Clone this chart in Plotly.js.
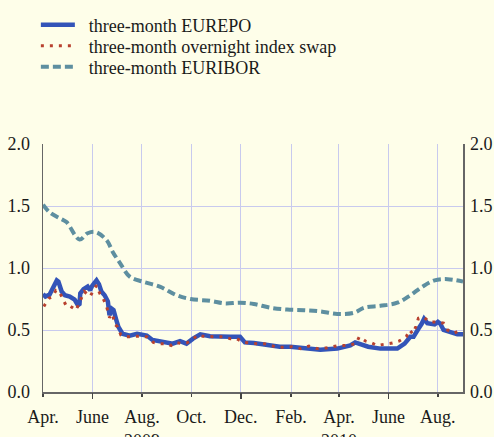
<!DOCTYPE html>
<html><head><meta charset="utf-8">
<script src="https://cdn.plot.ly/plotly-3.0.1.min.js"></script>
<style>html,body{margin:0;padding:0;background:#FEFEE9;}</style>
</head><body><div id="chart" style="width:494px;height:437px;"></div>
<script>
const eurepoDates = ['2009-04-01','2009-04-04','2009-04-09','2009-04-14','2009-04-18','2009-04-20','2009-04-24','2009-04-28','2009-05-04','2009-05-10','2009-05-14','2009-05-16','2009-05-17','2009-05-21','2009-05-26','2009-05-29','2009-06-01','2009-06-06','2009-06-09','2009-06-12','2009-06-16','2009-06-20','2009-06-22','2009-06-25','2009-06-27','2009-06-30','2009-07-03','2009-07-08','2009-07-17','2009-07-26','2009-08-07','2009-08-14','2009-08-27','2009-09-08','2009-09-17','2009-09-25','2009-10-03','2009-10-12','2009-10-24','2009-11-05','2009-11-18','2009-11-30','2009-12-06','2009-12-17','2010-01-06','2010-01-18','2010-01-31','2010-02-17','2010-03-09','2010-03-30','2010-04-15','2010-04-21','2010-04-27','2010-05-07','2010-05-22','2010-06-12','2010-06-21','2010-06-28','2010-07-02','2010-07-04','2010-07-08','2010-07-12','2010-07-15','2010-07-19','2010-07-23','2010-07-28','2010-08-01','2010-08-04','2010-08-08','2010-08-16','2010-08-25','2010-09-01'];
const eurepoValues = [0.79,0.77,0.785,0.85,0.90,0.89,0.81,0.78,0.77,0.745,0.70,0.71,0.795,0.83,0.85,0.82,0.86,0.90,0.87,0.81,0.78,0.73,0.62,0.67,0.66,0.59,0.525,0.47,0.455,0.47,0.455,0.42,0.40,0.39,0.41,0.39,0.43,0.465,0.45,0.445,0.445,0.445,0.40,0.395,0.375,0.365,0.365,0.35,0.34,0.35,0.375,0.40,0.39,0.365,0.35,0.35,0.39,0.445,0.445,0.47,0.51,0.55,0.59,0.555,0.55,0.545,0.565,0.55,0.50,0.485,0.465,0.465];

const oisDates = ['2009-04-02','2009-04-08','2009-04-13','2009-04-17','2009-04-21','2009-04-25','2009-04-30','2009-05-05','2009-05-12','2009-05-15','2009-05-22','2009-05-29','2009-06-02','2009-06-06','2009-06-10','2009-06-14','2009-06-18','2009-06-21','2009-06-22','2009-06-26','2009-06-28','2009-07-02','2009-07-06','2009-07-13','2009-07-21','2009-07-29','2009-08-07','2009-08-15','2009-08-23','2009-08-31','2009-09-06','2009-09-12','2009-09-19','2009-09-25','2009-10-01','2009-10-09','2009-10-15','2009-10-24','2009-11-01','2009-11-09','2009-11-18','2009-11-26','2009-12-04','2009-12-21','2009-12-30','2010-01-07','2010-01-15','2010-01-23','2010-02-02','2010-02-13','2010-02-23','2010-03-05','2010-03-16','2010-03-24','2010-04-01','2010-04-11','2010-04-22','2010-04-26','2010-05-04','2010-05-10','2010-05-18','2010-05-27','2010-06-06','2010-06-14','2010-06-23','2010-06-27','2010-07-01','2010-07-05','2010-07-08','2010-07-14','2010-07-22','2010-07-30','2010-08-08','2010-08-13','2010-08-21','2010-08-29'];
const oisValues = [0.69,0.755,0.77,0.82,0.81,0.755,0.69,0.69,0.66,0.71,0.81,0.77,0.82,0.86,0.795,0.755,0.70,0.63,0.60,0.63,0.55,0.525,0.46,0.445,0.45,0.45,0.445,0.40,0.39,0.39,0.375,0.40,0.39,0.395,0.415,0.46,0.45,0.445,0.445,0.445,0.43,0.43,0.40,0.39,0.39,0.375,0.36,0.36,0.365,0.35,0.37,0.35,0.355,0.365,0.375,0.375,0.39,0.445,0.41,0.40,0.375,0.385,0.395,0.41,0.445,0.50,0.47,0.53,0.595,0.605,0.565,0.565,0.555,0.50,0.475,0.50];

const euriborDates = ['2009-04-01','2009-04-09','2009-04-22','2009-04-30','2009-05-16','2009-05-26','2009-06-05','2009-06-19','2009-06-26','2009-07-05','2009-07-17','2009-08-02','2009-08-23','2009-09-13','2009-09-30','2009-10-24','2009-11-11','2009-11-30','2009-12-17','2010-01-06','2010-01-27','2010-02-17','2010-03-09','2010-03-30','2010-04-20','2010-05-02','2010-05-22','2010-06-12','2010-06-28','2010-07-13','2010-07-28','2010-08-13','2010-09-01'];
const euriborValues = [1.51,1.45,1.40,1.37,1.23,1.28,1.29,1.22,1.13,1.04,0.93,0.89,0.85,0.78,0.75,0.735,0.715,0.72,0.71,0.68,0.665,0.66,0.65,0.63,0.64,0.68,0.695,0.72,0.78,0.85,0.90,0.91,0.89];

const seriesNames = ['three-month EUREPO', 'three-month overnight index swap', 'three-month EURIBOR'];

const tickDates = ['2009-04-01','2009-06-01','2009-08-01','2009-10-01','2009-12-01','2010-02-01','2010-04-01','2010-06-01','2010-08-01'];
const tickLabels = ['Apr.','June','Aug.<br>2009','Oct.','Dec.','Feb.','Apr.<br>2010','June','Aug.'];
const longTickDates = ['2009-06-01','2009-12-01','2010-06-01'];
const yTicks = [0, 0.5, 1.0, 1.5, 2.0];
const yTickLabels = ['0.0','0.5','1.0','1.5','2.0'];

const bg = '#FEFEE9';
const font = {family: 'Liberation Serif, Times New Roman, Times, serif', size: 18, color: '#1a1a1a'};
const xr = ['2009-04-01','2010-09-01'];
const pad = '\u00a0\u00a0';

const traces = [
  {x: eurepoDates, y: eurepoValues, name: pad + seriesNames[0], mode: 'lines', legend: 'legend',
   line: {color: '#3354B8', width: 4.5}},
  {x: oisDates, y: oisValues, name: pad + seriesNames[1], mode: 'lines', legend: 'legend2',
   line: {color: '#B8412F', width: 3, dash: '3px,6px'}},
  {x: euriborDates, y: euriborValues, name: pad + seriesNames[2], mode: 'lines', legend: 'legend3',
   line: {color: '#5E8FA0', width: 4, dash: '8px,4px', shape: 'spline'}},
  {x: [xr[0]], y: [null], xaxis: 'x2', yaxis: 'y2', showlegend: false, hoverinfo: 'skip', mode: 'lines'}
];

function leg(y) {
  return {x: -0.017, y: y, xanchor: 'left', yanchor: 'top', bgcolor: 'rgba(0,0,0,0)',
          font: font, itemwidth: 34};
}

const layout = {
  width: 494, height: 437,
  margin: {l: 43, r: 31, t: 144, b: 45, autoexpand: false},
  paper_bgcolor: bg, plot_bgcolor: bg,
  font: font,
  showlegend: true,
  legend: leg(1.5545),
  legend2: leg(1.4698),
  legend3: leg(1.3851),
  xaxis: {type: 'date', range: xr, tickvals: tickDates, ticktext: tickLabels,
          showgrid: true, gridcolor: '#C8CAEE', gridwidth: 1,
          showline: true, linecolor: '#666', linewidth: 1.5,
          ticks: 'outside', ticklen: 3, tickcolor: '#444', tickwidth: 1.5,
          tickfont: font, zeroline: false, tickangle: 0, ticklabelstandoff: 5},
  xaxis2: {type: 'date', range: xr, overlaying: 'x', anchor: 'y', side: 'bottom',
           tickvals: longTickDates, ticks: 'outside', ticklen: 6, tickcolor: '#444', tickwidth: 1.5,
           showticklabels: false, showgrid: false, showline: false, zeroline: false},
  yaxis: {range: [0, 2.0], tickvals: yTicks, ticktext: yTickLabels,
          showgrid: true, gridcolor: '#C8CAEE', gridwidth: 1,
          showline: true, linecolor: '#666', linewidth: 1.5, mirror: true,
          ticks: '', tickfont: font, zeroline: false, ticklabelstandoff: 8},
  yaxis2: {range: [0, 2.0], tickvals: yTicks, ticktext: yTickLabels, overlaying: 'y', side: 'right',
           anchor: 'x', showgrid: false, showline: false, ticks: '', tickfont: font,
           zeroline: false, ticklabelstandoff: 6}
};

Plotly.newPlot('chart', traces, layout, {displayModeBar: false, staticPlot: true});
</script>
</body></html>
